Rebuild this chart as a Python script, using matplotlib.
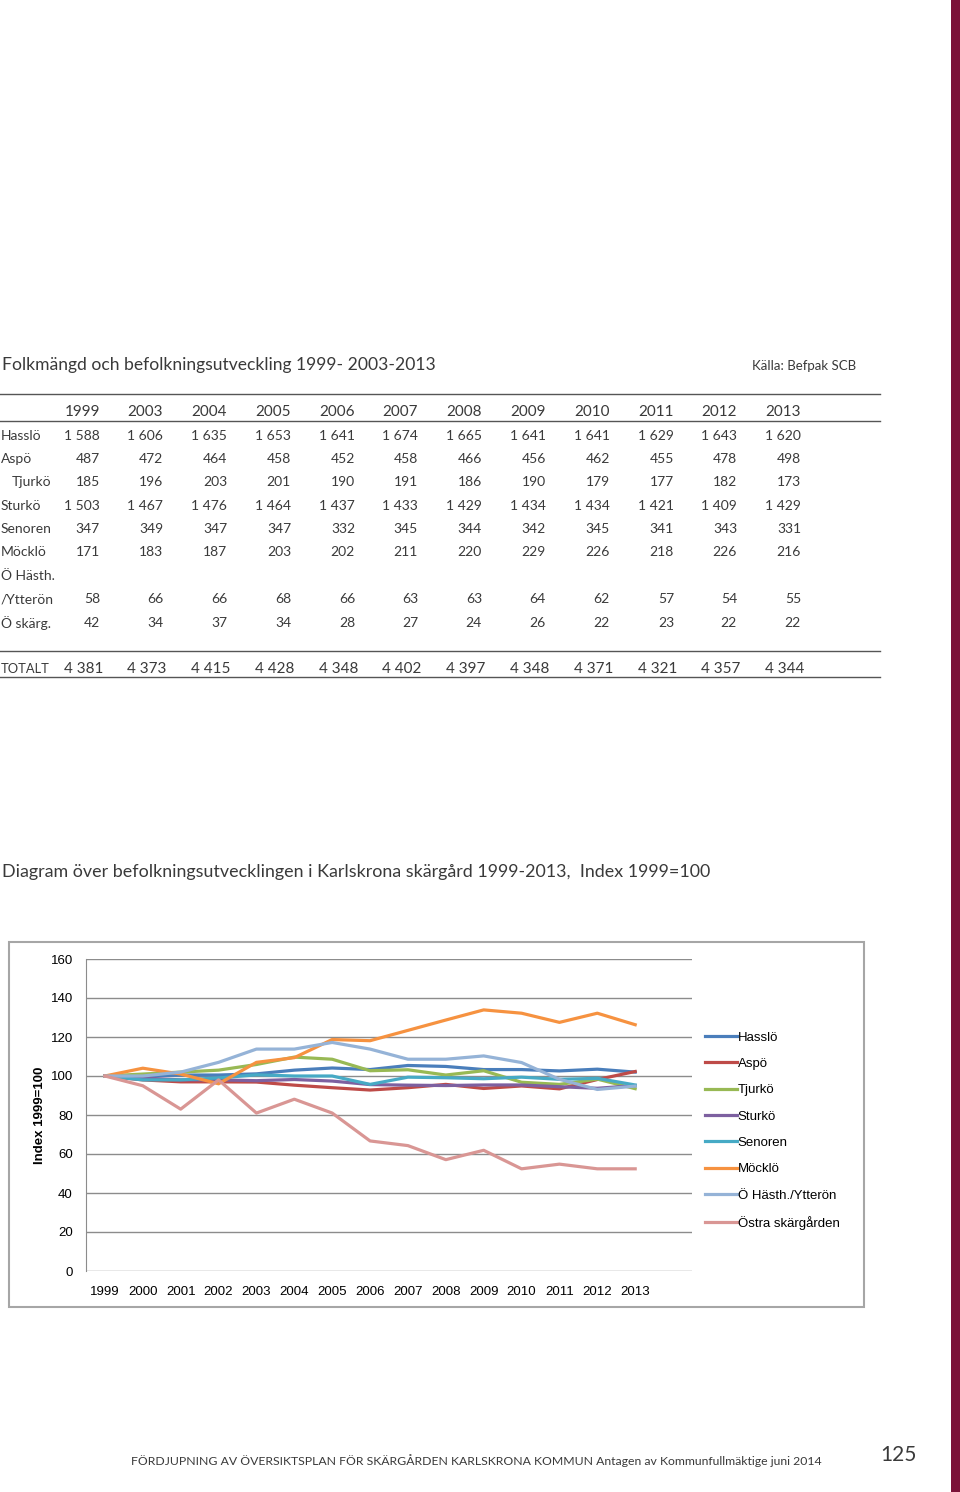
import matplotlib.pyplot as plt
from matplotlib.patches import Rectangle

# Table data (population)
table_years = ["1999", "2003", "2004", "2005", "2006", "2007", "2008",
               "2009", "2010", "2011", "2012", "2013"]
hasslo = [1588, 1606, 1635, 1653, 1641, 1674, 1665, 1641, 1641, 1629, 1643, 1620]
aspo = [487, 472, 464, 458, 452, 458, 466, 456, 462, 455, 478, 498]
tjurko = [185, 196, 203, 201, 190, 191, 186, 190, 179, 177, 182, 173]
sturko = [1503, 1467, 1476, 1464, 1437, 1433, 1429, 1434, 1434, 1421, 1409, 1429]
senoren = [347, 349, 347, 347, 332, 345, 344, 342, 345, 341, 343, 331]
mocklo = [171, 183, 187, 203, 202, 211, 220, 229, 226, 218, 226, 216]
hasth = [58, 66, 66, 68, 66, 63, 63, 64, 62, 57, 54, 55]
oskarg = [42, 34, 37, 34, 28, 27, 24, 26, 22, 23, 22, 22]
totalt = [4381, 4373, 4415, 4428, 4348, 4402, 4397, 4348, 4371, 4321, 4357, 4344]

# Chart data (index 1999=100)
chart_years = [str(y) for y in range(1999, 2014)]
idx_hasslo = [100, 100, 100.5, 100.5, 101.1, 103.0, 104.1, 103.3, 105.4, 104.9, 103.3, 103.3, 102.6, 103.5, 102.0]
idx_aspo = [100, 98, 97, 97, 96.9, 95.3, 94.0, 92.8, 94.0, 95.7, 93.6, 94.9, 93.4, 98.2, 102.3]
idx_tjurko = [100, 101, 102, 103, 105.9, 109.7, 108.6, 102.7, 103.2, 100.5, 102.7, 96.8, 95.7, 98.4, 93.5]
idx_sturko = [100, 99, 98, 98, 97.6, 98.2, 97.4, 95.6, 95.3, 95.1, 95.4, 95.4, 94.5, 93.7, 95.1]
idx_senoren = [100, 98, 98, 99, 100.6, 100, 100, 95.7, 99.4, 99.1, 98.6, 99.4, 98.3, 98.8, 95.4]
idx_mocklo = [100, 104, 101, 96, 107.0, 109.4, 118.7, 118.1, 123.4, 128.7, 133.9, 132.2, 127.5, 132.2, 126.3]
idx_hasth = [100, 100, 102, 107, 113.8, 113.8, 117.2, 113.8, 108.6, 108.6, 110.3, 106.9, 98.3, 93.1, 94.8]
idx_ostra = [100, 95, 83, 98, 81.0, 88.1, 81.0, 66.7, 64.3, 57.1, 61.9, 52.4, 54.8, 52.4, 52.4]

W, H = 960, 1492


def fx(x):
    return x / W


def fy(y):
    return 1 - y / H


def fmt(v):
    return f"{v:,}".replace(",", " ")


fig = plt.figure(figsize=(W / 100, H / 100), dpi=100)
fig.patch.set_facecolor("white")

TFONT = "Lato"
TXT = "#3a3a3a"
CFONT = "Liberation Sans"

# Maroon band on the right page edge
fig.add_artist(Rectangle((fx(951), 0), fx(9), 1, transform=fig.transFigure,
                         facecolor="#7b1238", edgecolor="none"))

# ---- Table ----
fig.text(fx(2), fy(365), "Folkmängd och befolkningsutveckling 1999- 2003-2013",
         family=TFONT, fontsize=12.6, color=TXT, va="center")
fig.text(fx(856), fy(366), "Källa: Befpak SCB", family=TFONT, fontsize=9.5,
         color=TXT, va="center", ha="right")

for yl in (394, 421, 651, 677):
    fig.add_artist(plt.Line2D([0, fx(880)], [fy(yl), fy(yl)], transform=fig.transFigure,
                              color="#555555", lw=1.0))

col_right = [100, 163, 227, 291, 355, 418, 482, 546, 610, 674, 737, 801]
for xr, yr in zip(col_right, table_years):
    fig.text(fx(xr), fy(412), yr, family=TFONT, fontsize=11, color=TXT,
             ha="right", va="center")

rows = [
    ("Hasslö", 1, 436, hasslo),
    ("Aspö", 1, 459, aspo),
    ("Tjurkö", 12, 482, tjurko),
    ("Sturkö", 1, 506, sturko),
    ("Senoren", 1, 529, senoren),
    ("Möcklö", 1, 552, mocklo),
    ("Ö Hästh.", 1, 576, None),
    ("/Ytterön", 1, 599, hasth),
    ("Ö skärg.", 1, 623, oskarg),
]
for label, lx, ly, vals in rows:
    fig.text(fx(lx), fy(ly), label, family=TFONT, fontsize=10, color=TXT, va="center")
    if vals is None:
        continue
    for xr, v in zip(col_right, vals):
        fig.text(fx(xr), fy(ly), fmt(v), family=TFONT, fontsize=10, color=TXT,
                 ha="right", va="center")

fig.text(fx(1), fy(669), "TOTALT", family=TFONT, fontsize=9.3, color=TXT, va="center")
for xr, v in zip(col_right, totalt):
    fig.text(fx(xr + 3), fy(669), fmt(v), family=TFONT, fontsize=11, color=TXT,
             ha="right", va="center")

# ---- Chart ----
fig.text(fx(2), fy(872),
         "Diagram över befolkningsutvecklingen i Karlskrona skärgård 1999-2013,  Index 1999=100",
         family=TFONT, fontsize=12.9, color=TXT, va="center")

fig.add_artist(Rectangle((fx(9), fy(1307)), fx(864) - fx(9), fy(942) - fy(1307),
                         transform=fig.transFigure, facecolor="none",
                         edgecolor="#a6a6a6", lw=1.5))

ax_l, ax_r, ax_t, ax_b = 86, 692, 959, 1271
ax = fig.add_axes([fx(ax_l), fy(ax_b), fx(ax_r) - fx(ax_l), fy(ax_t) - fy(ax_b)])
series = [
    ("Hasslö", idx_hasslo, "#4a7ebb"),
    ("Aspö", idx_aspo, "#be4b48"),
    ("Tjurkö", idx_tjurko, "#98b954"),
    ("Sturkö", idx_sturko, "#7d60a0"),
    ("Senoren", idx_senoren, "#46aac5"),
    ("Möcklö", idx_mocklo, "#f69240"),
    ("Ö Hästh./Ytterön", idx_hasth, "#95b3d7"),
    ("Östra skärgården", idx_ostra, "#d99694"),
]
xs = list(range(len(chart_years)))
for name, vals, col in series:
    ax.plot(xs, vals, color=col, lw=2.3, label=name, solid_joinstyle="round")

ax.set_xlim(-0.5, 15.5)
ax.set_ylim(0, 160)
ax.set_yticks(range(0, 161, 20))
ax.set_xticks(xs)
ax.set_xticklabels(chart_years)
ax.grid(axis="y", color="#8c8c8c", lw=1.0)
ax.set_axisbelow(True)
for s in ("top", "right", "bottom"):
    ax.spines[s].set_visible(False)
ax.spines["left"].set_color("#8c8c8c")
ax.tick_params(axis="both", length=0, labelsize=9.5, colors="black")
ax.tick_params(axis="y", pad=9.5)
ax.tick_params(axis="x", pad=10.5)
for lab in ax.get_xticklabels() + ax.get_yticklabels():
    lab.set_family(CFONT)
ax.set_ylabel("Index 1999=100", family=CFONT, fontsize=9.5,
              fontweight="bold", labelpad=3)

# legend placed in axes coordinates from pixel anchors
leg_x = (700 - ax_l) / (ax_r - ax_l)
leg_y = (ax_b - 1026) / (ax_b - ax_t)
ax.legend(loc="upper left", bbox_to_anchor=(leg_x, leg_y),
          frameon=False, prop={"family": CFONT, "size": 9.5},
          handlelength=2.4, handletextpad=0.05, labelspacing=1.07,
          borderaxespad=0)

# ---- Footer ----
fig.text(fx(131), fy(1461),
         "FÖRDJUPNING AV ÖVERSIKTSPLAN FÖR SKÄRGÅRDEN KARLSKRONA KOMMUN Antagen av Kommunfullmäktige juni 2014",
         family=TFONT, fontsize=8.8, color=TXT, va="center")
fig.text(fx(917), fy(1455), "125", family=TFONT, fontsize=15,
         color=TXT, va="center", ha="right")

fig.savefig("out.png", dpi=100, facecolor="white")
